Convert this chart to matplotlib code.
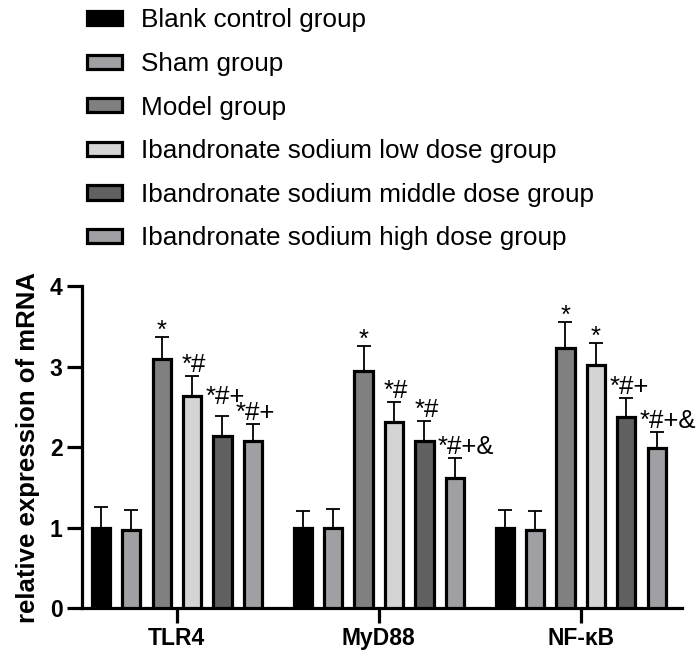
import matplotlib.pyplot as plt
import matplotlib.patches as mpatches
import numpy as np

plt.rcParams['font.family'] = ['Liberation Sans', 'DejaVu Sans']

genes = ["TLR4", "MyD88", "NF-κB"]
groups = ["Blank control group", "Sham group", "Model group",
          "Ibandronate sodium low dose group",
          "Ibandronate sodium middle dose group",
          "Ibandronate sodium high dose group"]
colors = ["#000000", "#a0a0a4", "#808080", "#d4d4d4", "#606060", "#a0a0a4"]

# mean values, one list per group (TLR4, MyD88, NF-kB)
blank = [1.00, 1.00, 1.00]
sham = [0.97, 1.00, 0.97]
model = [3.09, 2.94, 3.23]
low = [2.63, 2.31, 3.02]
middle = [2.14, 2.08, 2.38]
high = [2.07, 1.61, 1.99]
means = [blank, sham, model, low, middle, high]

# upper error (sd)
err_blank = [0.26, 0.20, 0.22]
err_sham = [0.25, 0.23, 0.24]
err_model = [0.28, 0.32, 0.32]
err_low = [0.25, 0.25, 0.27]
err_middle = [0.25, 0.25, 0.23]
err_high = [0.22, 0.26, 0.20]
errs = [err_blank, err_sham, err_model, err_low, err_middle, err_high]

marks = [["", "", ""],
         ["", "", ""],
         ["*", "*", "*"],
         ["*#", "*#", "*"],
         ["*#+", "*#", "*#+"],
         ["*#+", "*#+&", "*#+&"]]

fig = plt.figure(figsize=(6.97, 6.58), dpi=100)
ax = fig.add_axes([0.1176, 0.076, 0.8604, 0.489])

gap = 6.64
centers = np.arange(len(genes)) * gap
for i in range(len(groups)):
    x = centers + (i - 2.5)
    ax.bar(x, means[i], width=0.6, color=colors[i], edgecolor="black",
           linewidth=2.3, zorder=3, label=groups[i])
    ax.errorbar(x, means[i], yerr=[np.zeros(3), errs[i]], fmt="none",
                ecolor="black", elinewidth=1.3, capsize=5, capthick=1.3, zorder=2)
    for j in range(len(genes)):
        m = marks[i][j]
        if not m:
            continue
        top = means[i][j] + errs[i][j]
        if m == "*":
            ax.text(x[j], top - 0.01, m, ha="center", va="baseline", fontsize=18.5)
        else:
            dx = -0.33 if m == "*#" else -0.56
            dy = 0.14 if (i == 4 and j == 0) else 0.05
            ax.text(x[j] + dx, top + dy, m, ha="left", va="baseline", fontsize=18.5)

ax.set_xlim(-3.12, 16.6)
ax.set_ylim(0, 4)
ax.set_yticks([0, 1, 2, 3, 4])
ax.set_xticks(centers)
ax.set_xticklabels(genes, fontsize=16.5, fontweight="bold")
for lab in ax.get_yticklabels():
    lab.set_fontsize(16.5)
    lab.set_fontweight("bold")
ax.set_ylabel("relative expression of mRNA", fontsize=18.5, fontweight="bold",
              labelpad=7)
ax.tick_params(axis="both", length=11, width=2.3, pad=3)
for s in ["top", "right"]:
    ax.spines[s].set_visible(False)
for s in ["left", "bottom"]:
    ax.spines[s].set_linewidth(2.3)

handles = [mpatches.Patch(facecolor=c, edgecolor="black", linewidth=2.3) for c in colors]
fig.legend(handles, groups, loc="upper left", bbox_to_anchor=(0.1062, 1.007),
           frameon=False, fontsize=18.8, borderpad=0, handlelength=1.34,
           handleheight=0.46, handletextpad=0.73, labelspacing=0.75)

fig.savefig("out.png", dpi=100)
